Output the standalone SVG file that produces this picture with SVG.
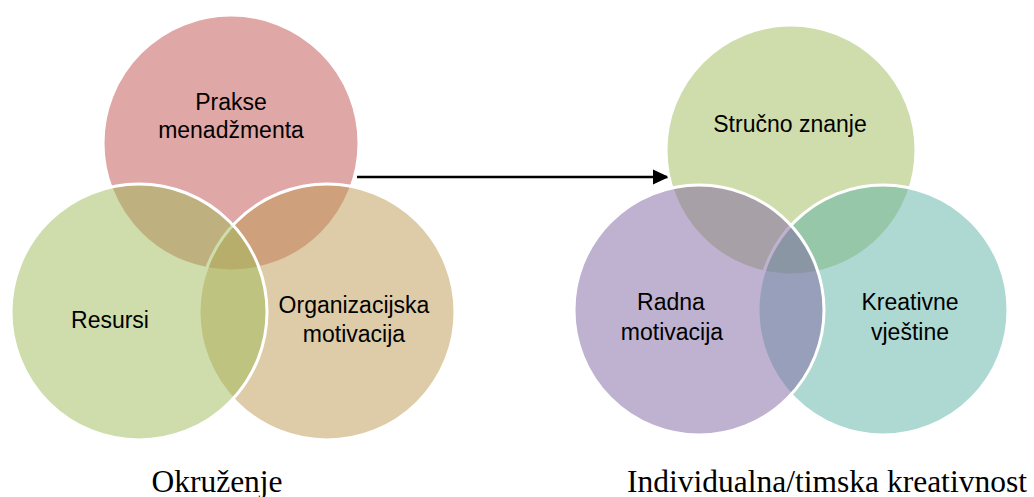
<svg xmlns="http://www.w3.org/2000/svg" width="1034" height="497" viewBox="0 0 1034 497">
<defs>
<style>
.c{stroke:#fff;stroke-width:3;fill-opacity:0.5}
.t{font-family:"Liberation Sans",Arial,sans-serif;font-size:23px;fill:#000;text-anchor:middle}
.cap{font-family:"Liberation Serif","Times New Roman",serif;font-size:31.5px;fill:#000;text-anchor:middle}
</style>
<marker id="ah" markerWidth="16" markerHeight="16" viewBox="0 0 16 16" refX="16" refY="8" orient="auto" markerUnits="userSpaceOnUse">
<path d="M0,0.5 L16,8 L0,15.5 Z" fill="#000"/>
</marker>
</defs>
<rect width="1034" height="497" fill="#fff"/>
<g id="left-venn">
<g id="prakse"><circle class="c" cx="231" cy="143" r="128" fill="#C14F4F"/></g>
<g id="organizacijska"><circle class="c" cx="327" cy="312" r="128" fill="#BD9951"/></g>
<g id="resursi"><circle class="c" cx="139" cy="312" r="128" fill="#9DBB57"/></g>
<text class="t" x="231" y="110">Prakse</text>
<text class="t" x="231" y="138">menadžmenta</text>
<text class="t" x="110" y="328">Resursi</text>
<text class="t" x="354" y="313">Organizacijska</text>
<text class="t" x="354" y="342">motivacija</text>
<text class="cap" x="217" y="492">Okruženje</text>
</g>
<g id="connectors">
<line x1="357" y1="177" x2="669" y2="177" stroke="#000" stroke-width="2.5" marker-end="url(#ah)"/>
</g>
<g id="right-venn">
<g id="strucno"><circle class="c" cx="791" cy="150" r="125" fill="#9FBB59"/></g>
<g id="kreativne"><circle class="c" cx="883" cy="310" r="125" fill="#5DB1A5"/></g>
<g id="radna"><circle class="c" cx="699" cy="310" r="125" fill="#7F65A1"/></g>
<text class="t" x="790" y="132">Stručno znanje</text>
<text class="t" x="671" y="310">Radna</text>
<text class="t" x="672" y="340">motivacija</text>
<text class="t" x="910" y="310">Kreativne</text>
<text class="t" x="910" y="340">vještine</text>
<text class="cap" x="827" y="492">Individualna/timska kreativnost</text>
</g>
</svg>
